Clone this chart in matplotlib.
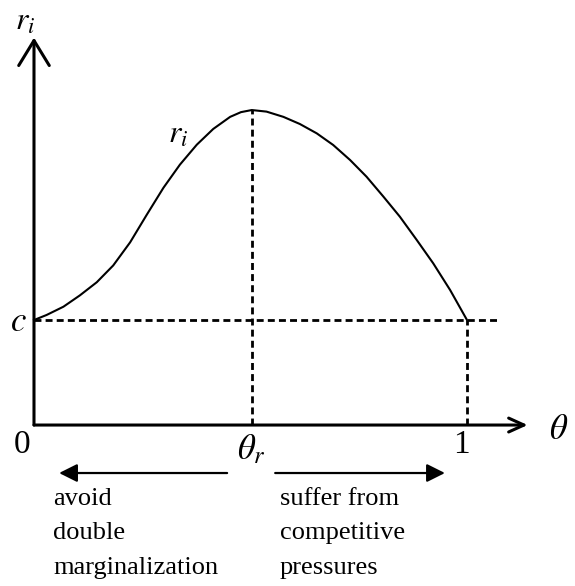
import matplotlib
matplotlib.use('Agg')
import matplotlib.pyplot as plt
from matplotlib.patches import FancyArrowPatch

plt.rcParams['font.family'] = ['Liberation Serif', 'DejaVu Serif']
plt.rcParams['mathtext.fontset'] = 'stix'

# curve r_i(theta) (c = 1)
theta = [0.0, 0.029, 0.068, 0.106, 0.145, 0.183, 0.222, 0.260, 0.299, 0.337,
         0.376, 0.414, 0.453, 0.478, 0.503, 0.537, 0.576, 0.614, 0.653, 0.691,
         0.730, 0.768, 0.807, 0.845, 0.884, 0.922, 0.961, 1.0]
r_i = [1.0, 1.048, 1.127, 1.235, 1.36, 1.52, 1.74, 2.00, 2.26, 2.48,
       2.67, 2.82, 2.935, 2.98, 3.0, 2.985, 2.935, 2.867, 2.778, 2.667,
       2.524, 2.365, 2.175, 1.984, 1.762, 1.54, 1.286, 1.0]

c = 1.0
theta_r = 0.503
r_peak = 3.0
left_note = "avoid\ndouble\nmarginalization"
right_note = "suffer from\ncompetitive\npressures"

fig = plt.figure(figsize=(5.75, 5.86), dpi=100)
ax = fig.add_axes([0, 0, 1, 1])
ax.set_xlim(-0.0785, 1.2494)
ax.set_ylim(-1.533, 4.048)
ax.axis('off')

# axes with open arrow heads
ax.add_patch(FancyArrowPatch((0, 0), (0, 3.69), arrowstyle='->,head_length=18,head_width=11',
                             mutation_scale=1, lw=2.2, color='black', shrinkA=0, shrinkB=0))
ax.add_patch(FancyArrowPatch((0, 0), (1.14, 0), arrowstyle='->,head_length=11,head_width=5',
                             mutation_scale=1, lw=2.2, color='black', shrinkA=0, shrinkB=0))

# dashed guides
dash = (0, (2.5, 1.5))
ax.plot([0, 1.07], [c, c], color='black', lw=2, linestyle=dash)
ax.plot([theta_r, theta_r], [0, r_peak], color='black', lw=2, linestyle=dash)
ax.plot([1.0, 1.0], [0, c], color='black', lw=2, linestyle=dash)

# curve
ax.plot(theta, r_i, color='black', lw=1.5, solid_joinstyle='round')

# labels
ax.text(-0.021, 3.84, r'$r_i$', fontsize=23, ha='center', va='center')
ax.text(0.333, 2.76, r'$r_i$', fontsize=23, ha='center', va='center')
ax.text(-0.037, 0.98, r'$c$', fontsize=25, ha='center', va='center')
ax.text(-0.028, -0.19, '0', fontsize=24, ha='center', va='center')
ax.text(0.988, -0.19, '1', fontsize=24, ha='center', va='center')
ax.text(theta_r, -0.24, r'$\theta_r$', fontsize=25, ha='center', va='center')
ax.text(1.212, -0.05, r'$\theta$', fontsize=25, ha='center', va='center')

# bottom arrows and notes
ax.add_patch(FancyArrowPatch((0.446, -0.457), (0.058, -0.457), arrowstyle='-|>,head_length=11,head_width=5.5',
                             mutation_scale=1, lw=1.6, color='black', shrinkA=0, shrinkB=0))
ax.add_patch(FancyArrowPatch((0.557, -0.457), (0.949, -0.457), arrowstyle='-|>,head_length=11,head_width=5.5',
                             mutation_scale=1, lw=1.6, color='black', shrinkA=0, shrinkB=0))
ax.text(0.044, -0.60, left_note, fontsize=19, ha='left', va='top', linespacing=1.72)
ax.text(0.568, -0.60, right_note, fontsize=19, ha='left', va='top', linespacing=1.72)

fig.savefig('out.png', dpi=100)
